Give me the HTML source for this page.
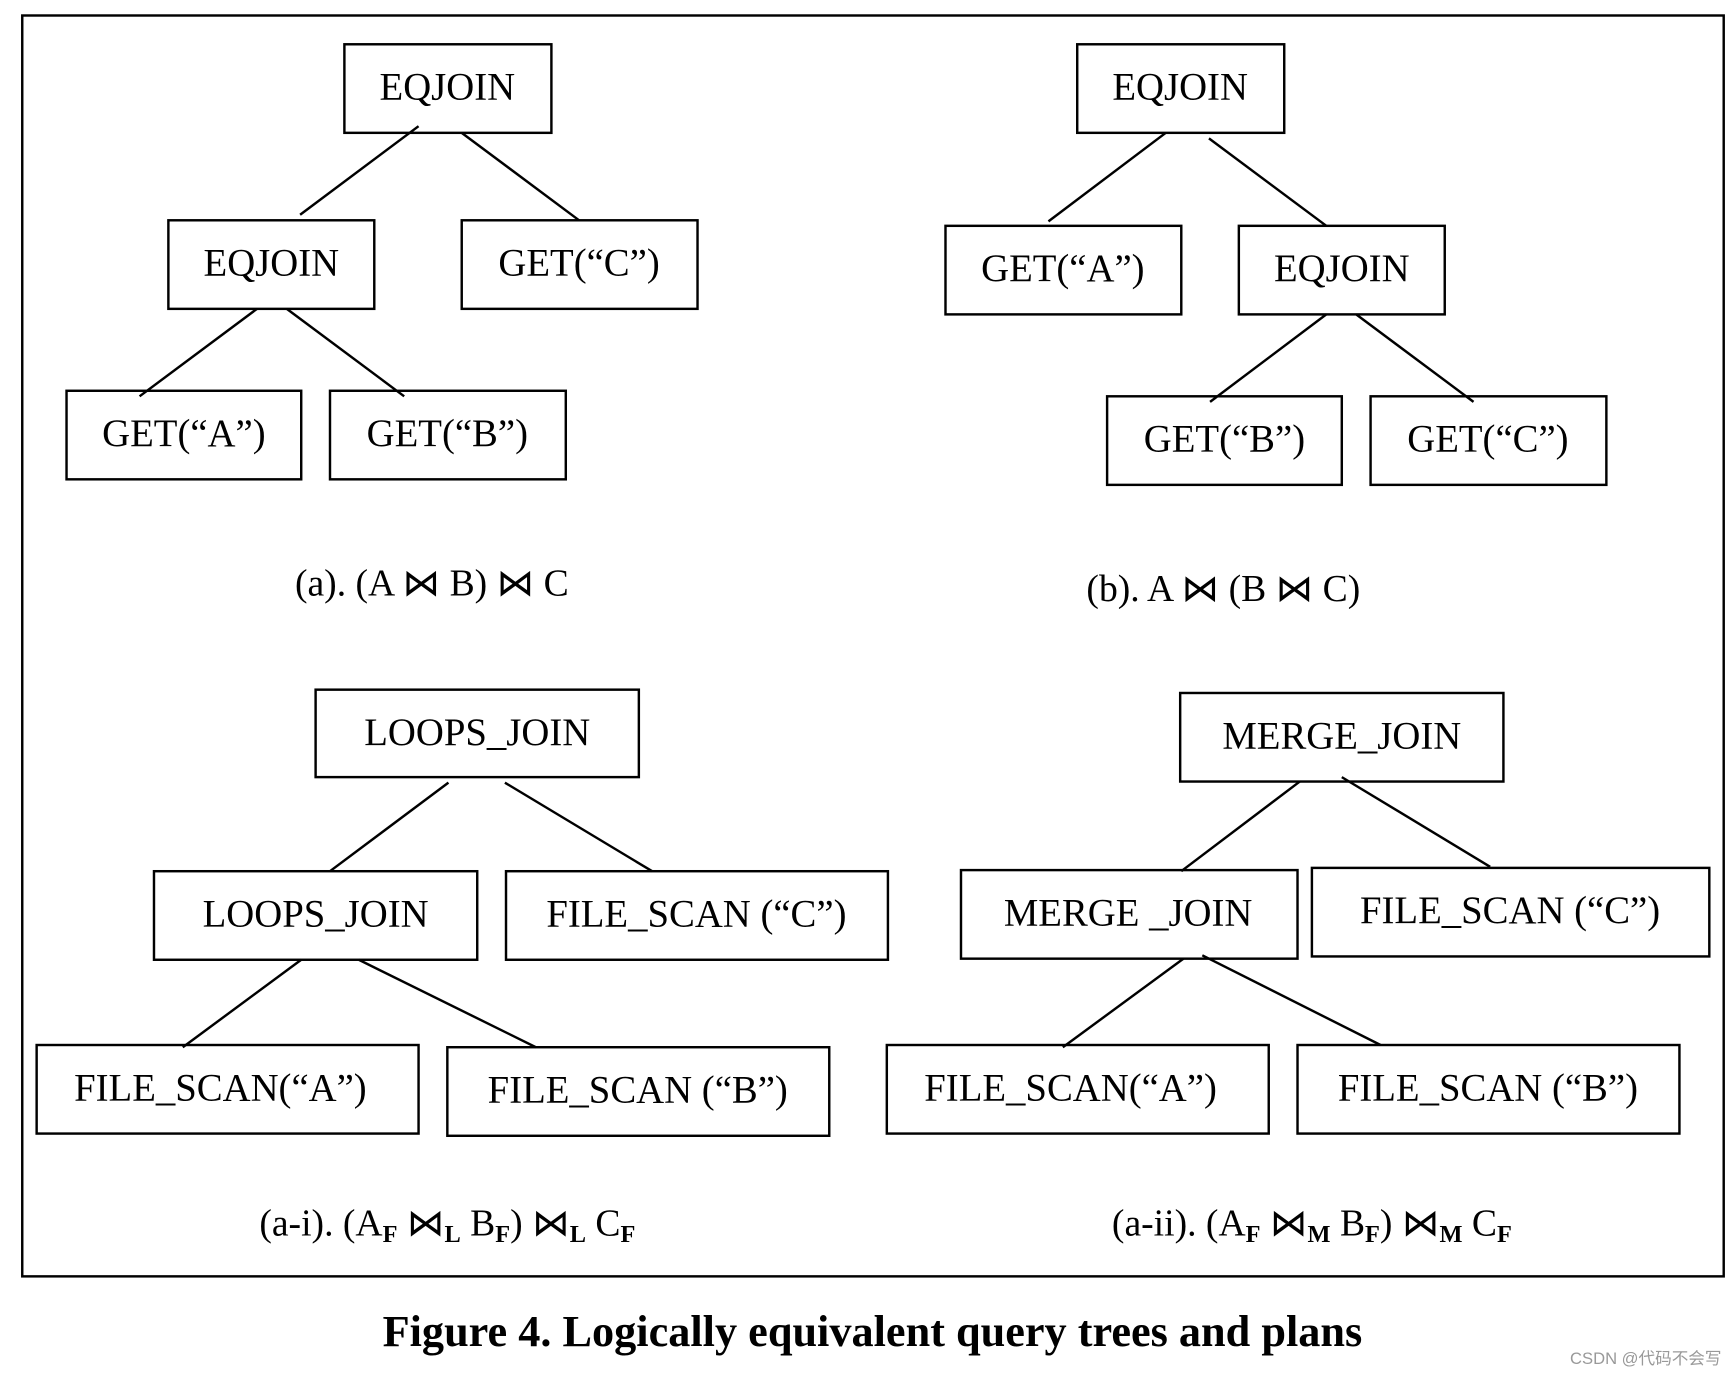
<!DOCTYPE html>
<html><head><meta charset="utf-8"><style>
html,body{margin:0;padding:0;background:#fff;}
svg{display:block;}
text{font-family:"Liberation Serif",serif;fill:#000;}
.b{font-size:35px;text-anchor:middle;}
.c{font-size:34px;text-anchor:middle;}
.s{font-size:22px;font-weight:bold;}
</style></head><body>
<svg width="1736" height="1376" viewBox="0 0 1568 1243" xmlns="http://www.w3.org/2000/svg">
<g fill="none" stroke="#000" stroke-width="2.2">
<rect x="20" y="14" width="1537" height="1139"/>
<rect x="311" y="40" width="187" height="80"/>
<rect x="152" y="199" width="186" height="80"/>
<rect x="417" y="199" width="213" height="80"/>
<rect x="60" y="353" width="212" height="80"/>
<rect x="298" y="353" width="213" height="80"/>
<line x1="378" y1="114" x2="271" y2="194"/>
<line x1="417" y1="120" x2="523" y2="199"/>
<line x1="232" y1="279" x2="126" y2="358"/>
<line x1="259" y1="279" x2="365" y2="358"/>
<rect x="973" y="40" width="187" height="80"/>
<rect x="854" y="204" width="213" height="80"/>
<rect x="1119" y="204" width="186" height="80"/>
<rect x="1000" y="358" width="212" height="80"/>
<rect x="1238" y="358" width="213" height="80"/>
<line x1="1053" y1="120" x2="947" y2="200"/>
<line x1="1092" y1="125" x2="1198" y2="204"/>
<line x1="1198" y1="284" x2="1093" y2="363"/>
<line x1="1225" y1="284" x2="1331" y2="363"/>
<rect x="285" y="623" width="292" height="79"/>
<rect x="139" y="787" width="292" height="80"/>
<rect x="457" y="787" width="345" height="80"/>
<rect x="33" y="944" width="345" height="80"/>
<rect x="404" y="946" width="345" height="80"/>
<line x1="405" y1="707" x2="298" y2="787"/>
<line x1="456" y1="707" x2="589" y2="787"/>
<line x1="272" y1="867" x2="165" y2="946"/>
<line x1="324" y1="867" x2="484" y2="946"/>
<rect x="1066" y="626" width="292" height="80"/>
<rect x="868" y="786" width="304" height="80"/>
<rect x="1185" y="784" width="359" height="80"/>
<rect x="801" y="944" width="345" height="80"/>
<rect x="1172" y="944" width="345" height="80"/>
<line x1="1174" y1="706" x2="1067" y2="787"/>
<line x1="1212" y1="702" x2="1346" y2="783"/>
<line x1="1069" y1="866" x2="960" y2="946"/>
<line x1="1086" y1="863" x2="1247" y2="944"/>
</g>
<text class="b" x="404" y="90">EQJOIN</text>
<text class="b" x="245" y="249">EQJOIN</text>
<text class="b" x="523" y="249">GET(“C”)</text>
<text class="b" x="166" y="403">GET(“A”)</text>
<text class="b" x="404" y="403">GET(“B”)</text>
<text class="c" x="390" y="538">(a). (A ⋈ B) ⋈ C</text>
<text class="b" x="1066" y="90">EQJOIN</text>
<text class="b" x="960" y="254">GET(“A”)</text>
<text class="b" x="1212" y="254">EQJOIN</text>
<text class="b" x="1106" y="408">GET(“B”)</text>
<text class="b" x="1344" y="408">GET(“C”)</text>
<text class="c" x="1105" y="543">(b). A ⋈ (B ⋈ C)</text>
<text class="b" x="431" y="673">LOOPS_JOIN</text>
<text class="b" x="285" y="837">LOOPS_JOIN</text>
<text class="b" x="629" y="837">FILE_SCAN (“C”)</text>
<text class="b" x="199" y="994">FILE_SCAN(“A”)</text>
<text class="b" x="576" y="996">FILE_SCAN (“B”)</text>
<text class="c" x="404" y="1116">(a-i). (A<tspan class="s" dy="6">F</tspan><tspan dy="-6"> ⋈</tspan><tspan class="s" dy="6">L</tspan><tspan dy="-6"> B</tspan><tspan class="s" dy="6">F</tspan><tspan dy="-6">) ⋈</tspan><tspan class="s" dy="6">L</tspan><tspan dy="-6"> C</tspan><tspan class="s" dy="6">F</tspan></text>
<text class="b" x="1212" y="676">MERGE_JOIN</text>
<text class="b" x="1019" y="836">MERGE _JOIN</text>
<text class="b" x="1364" y="834">FILE_SCAN (“C”)</text>
<text class="b" x="967" y="994">FILE_SCAN(“A”)</text>
<text class="b" x="1344" y="994">FILE_SCAN (“B”)</text>
<text class="c" x="1185" y="1116">(a-ii). (A<tspan class="s" dy="6">F</tspan><tspan dy="-6"> ⋈</tspan><tspan class="s" dy="6">M</tspan><tspan dy="-6"> B</tspan><tspan class="s" dy="6">F</tspan><tspan dy="-6">) ⋈</tspan><tspan class="s" dy="6">M</tspan><tspan dy="-6"> C</tspan><tspan class="s" dy="6">F</tspan></text>
<text x="788" y="1216" style="font-size:40px;font-weight:bold;text-anchor:middle">Figure 4. Logically equivalent query trees and plans</text>
<text x="1555" y="1232" style="font-family:'Liberation Sans','Noto Sans CJK SC',sans-serif;font-size:15px;fill:#999;text-anchor:end">CSDN @代码不会写</text>
</svg>
</body></html>
